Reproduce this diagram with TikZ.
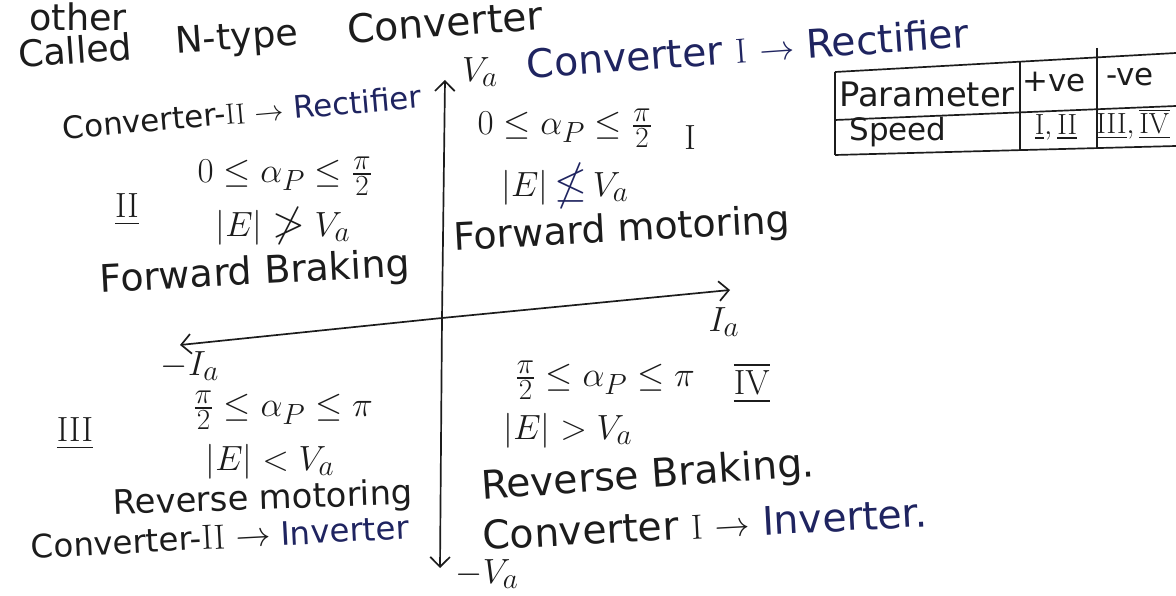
\documentclass[tikz,border=0pt]{standalone}
\usepackage{amsmath,amssymb}
\usepackage[no-math]{fontspec}
\setmainfont{DejaVu Sans}
\usetikzlibrary{arrows.meta}
\definecolor{ink}{HTML}{1C1C1C}
\definecolor{blueink}{HTML}{1F2460}
\tikzset{
  hand/.style={text=ink, inner sep=0pt, font=\fontsize{#1}{#1}\selectfont},
  hand/.default=26,
  mathnote/.style={text=ink, inner sep=0pt, font=\fontsize{30}{34}\selectfont},
  cell/.style={text=ink, inner sep=0pt, font=\fontsize{20}{24}\selectfont},
  axis/.style={draw=ink, line width=1.2pt, -{Straight Barb[length=7pt]}},
  tabline/.style={draw=ink, line width=1.2pt},
}
\newcommand{\rnum}[1]{$\mathrm{#1}$}
\begin{document}
\begin{tikzpicture}[x=0.025cm, y=-0.025cm]
    \fill[white] (0,0) rectangle (1176,596);
    \useasboundingbox (0,0) rectangle (1176,596);
    \clip (0,0) rectangle (1176,596);

    % heading lines
    \node[hand=26] (other) at (78,17) {other};
    \node[hand=26, rotate=4] (called) at (75,50) {Called};
    \node[hand=26, rotate=4] (ntype) at (237,40) {N-type};
    \node[hand=28, rotate=4] (conv) at (445,22) {Converter};
    \node[hand=22, rotate=5] (conv2rec) at (242,112) {Converter-\rnum{II} $\rightarrow$ {\color{blueink}Rectifier}};
    \node[hand=28, rotate=4, text=blueink] (conv1rec) at (748,48) {Converter \rnum{I} $\rightarrow$ Rectifier};

    % axes
    \coordinate (vtop) at (445,80);
    \coordinate (vbot) at (440,568);
    \coordinate (hleft) at (180,345);
    \coordinate (hright) at (730,290);
    \coordinate (orig) at (442,318);
    \draw[axis] (orig) -- (vtop);
    \draw[axis] (orig) -- (vbot);
    \draw[axis] (orig) -- (hright);
    \draw[axis] (orig) -- (hleft);
    \node[mathnote] (va) at (480,72) {$V_a$};
    \node[mathnote] (mva) at (487,574) {$-V_a$};
    \node[mathnote] (ia) at (724,322) {$I_a$};
    \node[mathnote] (mia) at (190,366) {$-I_a$};

    % quadrant I
    \node[mathnote] (q1a) at (565,128) {$0\le\alpha_P\le\frac{\pi}{2}$};
    \node[mathnote] (q1n) at (690,138) {$\mathrm{I}$};
    \node[mathnote] (q1e) at (565,186) {$|E|\,{\color{blueink}\nleq}\,V_a$};
    \node[hand=27, rotate=3] (q1m) at (622,231) {Forward motoring};

    % quadrant II
    \node[mathnote] (q2a) at (285,176) {$0\le\alpha_P\le\frac{\pi}{2}$};
    \node[mathnote] (q2n) at (127,210) {$\underline{\mathrm{II}}$};
    \node[mathnote] (q2e) at (283,226) {$|E|\ngtr V_a$};
    \node[hand=27, rotate=3] (q2m) at (255,274) {Forward Braking};

    % quadrant III
    \node[mathnote] (q3n) at (75,434) {$\underline{\mathrm{III}}$};
    \node[mathnote] (q3a) at (283,410) {$\frac{\pi}{2}\le\alpha_P\le\pi$};
    \node[mathnote] (q3e) at (270,462) {$|E|<V_a$};
    \node[hand=24, rotate=2] (q3m) at (263,500) {Reverse motoring};
    \node[hand=23, rotate=3] (conv2inv) at (220,537) {Converter-\rnum{II} $\rightarrow$ {\color{blueink}Inverter}};

    % quadrant IV
    \node[mathnote] (q4a) at (605,380) {$\frac{\pi}{2}\le\alpha_P\le\pi$};
    \node[mathnote] (q4n) at (752,383) {$\overline{\underline{\mathrm{IV}}}$};
    \node[mathnote] (q4e) at (568,431) {$|E|>V_a$};
    \node[hand=28, rotate=4] (q4m) at (648,477) {Reverse Braking.};
    \node[hand=28, rotate=3] (conv1inv) at (705,524) {Converter \rnum{I} $\rightarrow$ {\color{blueink}Inverter.}};

    % table
    \coordinate (t1) at (835,72);
    \coordinate (t2) at (1176,53);
    \coordinate (t3) at (835,120);
    \coordinate (t4) at (1176,106);
    \coordinate (t5) at (835,155);
    \coordinate (t6) at (1176,146);
    \draw[tabline] (t1) -- (t2);
    \draw[tabline] (t3) -- (t4);
    \draw[tabline] (t5) -- (t6);
    \draw[tabline] (t1) -- (t5);
    \draw[tabline] (1020,62) -- (1020,150);
    \draw[tabline] (1097,48) -- (1097,148);
    \node[hand=24] (param) at (927,94) {Parameter};
    \node[hand=22] (pve) at (1054,82) {+ve};
    \node[hand=22] (nve) at (1130,77) {-ve};
    \node[hand=22] (speed) at (898,132) {Speed};
    \node[cell] (pq) at (1056,127) {$\underline{\mathrm{I}}, \underline{\mathrm{II}}$};
    \node[cell] (nq) at (1133,124) {$\underline{\mathrm{III}}, \overline{\underline{\mathrm{IV}}}$};
\end{tikzpicture}
\end{document}
